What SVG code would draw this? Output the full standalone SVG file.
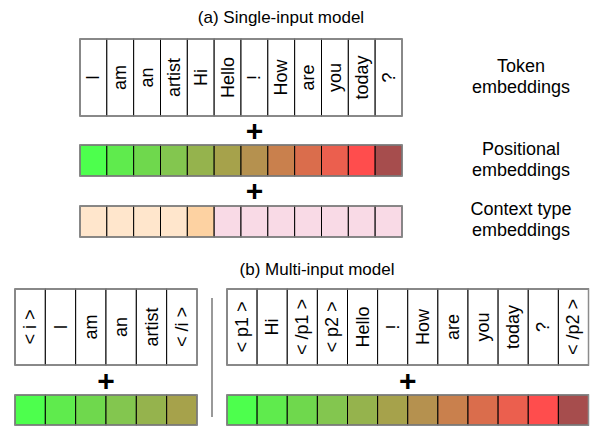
<svg xmlns="http://www.w3.org/2000/svg" width="590" height="428" viewBox="0 0 590 428">
<style>
.t{font-family:"Liberation Sans",Arial,sans-serif;font-size:18px;fill:#000;text-anchor:middle}
.h{font-family:"Liberation Sans",Arial,sans-serif;font-size:17px;fill:#000;text-anchor:middle}
.c{stroke:#000;stroke-width:1}
.w{fill:#fff}
.o{fill:none;stroke:#8c8c8c;stroke-width:1.5}
.plus{font-family:"Liberation Sans",Arial,sans-serif;font-size:30px;font-weight:bold;text-anchor:middle;fill:#000}
.p1{fill:#4DFF4D}.p2{fill:#5FEB4D}.p3{fill:#6FD84D}.p4{fill:#83C64F}.p5{fill:#95B34D}.p6{fill:#A6A24B}
.p7{fill:#B5914F}.p8{fill:#C9804D}.p9{fill:#DA6D4C}.p10{fill:#EB5F4E}.p11{fill:#FF4D4D}.p12{fill:#A64D4D}
.ca{fill:#FFE6CC}.cb{fill:#FDD2A2}.cc{fill:#F9DAE6}
</style>

<g id="titles">
<text class="h" x="281" y="23">(a) Single-input model</text>
<text class="h" x="317" y="275">(b) Multi-input model</text>
</g>

<g id="labels">
<text class="t" x="521" y="72">Token</text>
<text class="t" x="521" y="93">embeddings</text>
<text class="t" x="521" y="155">Positional</text>
<text class="t" x="521" y="176">embeddings</text>
<text class="t" x="521" y="215">Context type</text>
<text class="t" x="521" y="236">embeddings</text>
</g>

<g id="a-tokens">
<rect class="c w" x="80" y="39" width="26.83" height="77"/>
<rect class="c w" x="106.83" y="39" width="26.83" height="77"/>
<rect class="c w" x="133.67" y="39" width="26.83" height="77"/>
<rect class="c w" x="160.5" y="39" width="26.83" height="77"/>
<rect class="c w" x="187.33" y="39" width="26.83" height="77"/>
<rect class="c w" x="214.17" y="39" width="26.83" height="77"/>
<rect class="c w" x="241" y="39" width="26.83" height="77"/>
<rect class="c w" x="267.83" y="39" width="26.83" height="77"/>
<rect class="c w" x="294.67" y="39" width="26.83" height="77"/>
<rect class="c w" x="321.5" y="39" width="26.83" height="77"/>
<rect class="c w" x="348.33" y="39" width="26.83" height="77"/>
<rect class="c w" x="375.17" y="39" width="26.83" height="77"/>
<rect class="o" x="80" y="39" width="322" height="77"/>
<text class="t" transform="translate(99.4,77.5) rotate(-90)">I</text>
<text class="t" transform="translate(126.3,77.5) rotate(-90)">am</text>
<text class="t" transform="translate(153.1,77.5) rotate(-90)">an</text>
<text class="t" transform="translate(179.9,77.5) rotate(-90)">artist</text>
<text class="t" transform="translate(206.8,77.5) rotate(-90)">Hi</text>
<text class="t" transform="translate(233.6,77.5) rotate(-90)">Hello</text>
<text class="t" transform="translate(260.4,77.5) rotate(-90)">!</text>
<text class="t" transform="translate(287.3,77.5) rotate(-90)">How</text>
<text class="t" transform="translate(314.1,77.5) rotate(-90)">are</text>
<text class="t" transform="translate(340.9,77.5) rotate(-90)">you</text>
<text class="t" transform="translate(367.8,77.5) rotate(-90)">today</text>
<text class="t" transform="translate(394.6,77.5) rotate(-90)">?</text>
</g>

<g id="a-positional">
<rect class="c p1" x="80" y="145" width="26.83" height="31"/>
<rect class="c p2" x="106.83" y="145" width="26.83" height="31"/>
<rect class="c p3" x="133.67" y="145" width="26.83" height="31"/>
<rect class="c p4" x="160.5" y="145" width="26.83" height="31"/>
<rect class="c p5" x="187.33" y="145" width="26.83" height="31"/>
<rect class="c p6" x="214.17" y="145" width="26.83" height="31"/>
<rect class="c p7" x="241" y="145" width="26.83" height="31"/>
<rect class="c p8" x="267.83" y="145" width="26.83" height="31"/>
<rect class="c p9" x="294.67" y="145" width="26.83" height="31"/>
<rect class="c p10" x="321.5" y="145" width="26.83" height="31"/>
<rect class="c p11" x="348.33" y="145" width="26.83" height="31"/>
<rect class="c p12" x="375.17" y="145" width="26.83" height="31"/>
<rect class="o" x="80" y="145" width="322" height="31"/>
</g>

<g id="a-context">
<rect class="c ca" x="80" y="206" width="26.83" height="31"/>
<rect class="c ca" x="106.83" y="206" width="26.83" height="31"/>
<rect class="c ca" x="133.67" y="206" width="26.83" height="31"/>
<rect class="c ca" x="160.5" y="206" width="26.83" height="31"/>
<rect class="c cb" x="187.33" y="206" width="26.83" height="31"/>
<rect class="c cc" x="214.17" y="206" width="26.83" height="31"/>
<rect class="c cc" x="241" y="206" width="26.83" height="31"/>
<rect class="c cc" x="267.83" y="206" width="26.83" height="31"/>
<rect class="c cc" x="294.67" y="206" width="26.83" height="31"/>
<rect class="c cc" x="321.5" y="206" width="26.83" height="31"/>
<rect class="c cc" x="348.33" y="206" width="26.83" height="31"/>
<rect class="c cc" x="375.17" y="206" width="26.83" height="31"/>
<rect class="o" x="80" y="206" width="322" height="31"/>
</g>

<g id="plus-signs">
<text class="plus" x="254.4" y="141">+</text>
<text class="plus" x="254.4" y="201">+</text>
<text class="plus" x="106" y="391">+</text>
<text class="plus" x="407.8" y="391">+</text>
</g>

<g id="b-left-tokens">
<rect class="c w" x="15" y="289" width="30.33" height="76"/>
<rect class="c w" x="45.33" y="289" width="30.33" height="76"/>
<rect class="c w" x="75.67" y="289" width="30.33" height="76"/>
<rect class="c w" x="106" y="289" width="30.33" height="76"/>
<rect class="c w" x="136.33" y="289" width="30.33" height="76"/>
<rect class="c w" x="166.67" y="289" width="30.33" height="76"/>
<rect class="o" x="15" y="289" width="182" height="76"/>
<text class="t" transform="translate(36.2,327) rotate(-90)">&lt; i &gt;</text>
<text class="t" transform="translate(66.5,327) rotate(-90)">I</text>
<text class="t" transform="translate(96.8,327) rotate(-90)">am</text>
<text class="t" transform="translate(127.2,327) rotate(-90)">an</text>
<text class="t" transform="translate(157.5,327) rotate(-90)">artist</text>
<text class="t" transform="translate(187.8,327) rotate(-90)">&lt; /i &gt;</text>
</g>

<g id="b-left-positional">
<rect class="c p1" x="15" y="395" width="30.33" height="30"/>
<rect class="c p2" x="45.33" y="395" width="30.33" height="30"/>
<rect class="c p3" x="75.67" y="395" width="30.33" height="30"/>
<rect class="c p4" x="106" y="395" width="30.33" height="30"/>
<rect class="c p5" x="136.33" y="395" width="30.33" height="30"/>
<rect class="c p6" x="166.67" y="395" width="30.33" height="30"/>
<rect class="o" x="15" y="395" width="182" height="30"/>
</g>

<g id="divider">
<line x1="212" y1="298" x2="212" y2="417" stroke="#777" stroke-width="1.5"/>
</g>

<g id="b-right-tokens">
<rect class="c w" x="227" y="289" width="30.125" height="76"/>
<rect class="c w" x="257.125" y="289" width="30.125" height="76"/>
<rect class="c w" x="287.25" y="289" width="30.125" height="76"/>
<rect class="c w" x="317.375" y="289" width="30.125" height="76"/>
<rect class="c w" x="347.5" y="289" width="30.125" height="76"/>
<rect class="c w" x="377.625" y="289" width="30.125" height="76"/>
<rect class="c w" x="407.75" y="289" width="30.125" height="76"/>
<rect class="c w" x="437.875" y="289" width="30.125" height="76"/>
<rect class="c w" x="468" y="289" width="30.125" height="76"/>
<rect class="c w" x="498.125" y="289" width="30.125" height="76"/>
<rect class="c w" x="528.25" y="289" width="30.125" height="76"/>
<rect class="c w" x="558.375" y="289" width="30.125" height="76"/>
<rect class="o" x="227" y="289" width="361.5" height="76"/>
<text class="t" transform="translate(248.1,327) rotate(-90)">&lt; p1 &gt;</text>
<text class="t" transform="translate(278.2,327) rotate(-90)">Hi</text>
<text class="t" transform="translate(308.3,327) rotate(-90)">&lt; /p1 &gt;</text>
<text class="t" transform="translate(338.4,327) rotate(-90)">&lt; p2 &gt;</text>
<text class="t" transform="translate(368.6,327) rotate(-90)">Hello</text>
<text class="t" transform="translate(398.7,327) rotate(-90)">!</text>
<text class="t" transform="translate(428.8,327) rotate(-90)">How</text>
<text class="t" transform="translate(458.9,327) rotate(-90)">are</text>
<text class="t" transform="translate(489.1,327) rotate(-90)">you</text>
<text class="t" transform="translate(519.2,327) rotate(-90)">today</text>
<text class="t" transform="translate(549.3,327) rotate(-90)">?</text>
<text class="t" transform="translate(579.4,327) rotate(-90)">&lt; /p2 &gt;</text>
</g>

<g id="b-right-positional">
<rect class="c p1" x="227" y="395" width="30.125" height="30"/>
<rect class="c p2" x="257.125" y="395" width="30.125" height="30"/>
<rect class="c p3" x="287.25" y="395" width="30.125" height="30"/>
<rect class="c p4" x="317.375" y="395" width="30.125" height="30"/>
<rect class="c p5" x="347.5" y="395" width="30.125" height="30"/>
<rect class="c p6" x="377.625" y="395" width="30.125" height="30"/>
<rect class="c p7" x="407.75" y="395" width="30.125" height="30"/>
<rect class="c p8" x="437.875" y="395" width="30.125" height="30"/>
<rect class="c p9" x="468" y="395" width="30.125" height="30"/>
<rect class="c p10" x="498.125" y="395" width="30.125" height="30"/>
<rect class="c p11" x="528.25" y="395" width="30.125" height="30"/>
<rect class="c p12" x="558.375" y="395" width="30.125" height="30"/>
<rect class="o" x="227" y="395" width="361.5" height="30"/>
</g>

<g id="connectors"></g>
</svg>
